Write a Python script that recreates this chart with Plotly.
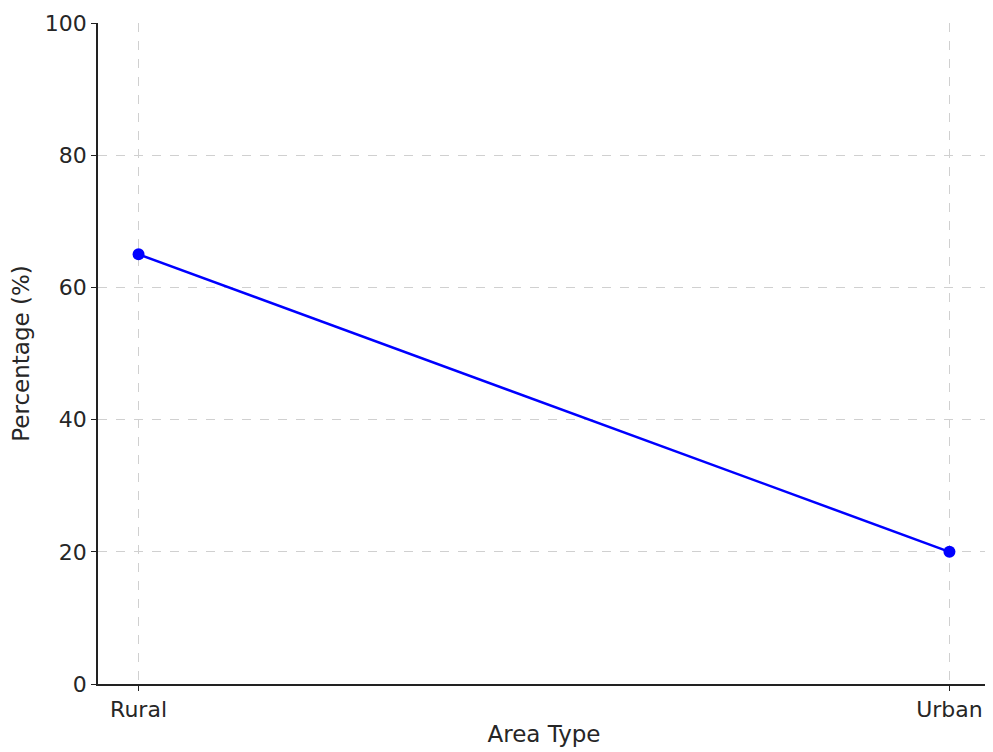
import plotly.graph_objects as go

categories = ["Rural", "Urban"]
values = [65, 20]

fig = go.Figure()
fig.add_trace(go.Scatter(
    x=[0, 1], y=values, mode="lines+markers",
    line=dict(color="#0000ff", width=2.5),
    marker=dict(color="#0000ff", size=12),
    showlegend=False,
))

fig.update_layout(
    width=985, height=739,
    margin=dict(l=90, r=3, t=14, b=58),
    paper_bgcolor="white", plot_bgcolor="white",
    font=dict(family="DejaVu Sans", size=22, color="#262626"),
)
fig.update_xaxes(
    range=[-0.05, 1.05], tickvals=[0, 1], ticktext=categories,
    title=dict(text="Area Type", font=dict(size=23), standoff=6),
    showline=True, linecolor="#222222", linewidth=1.5,
    ticks="outside", ticklen=5, tickcolor="#222222",
    showgrid=True, gridcolor="#d0d0d0", griddash="dash", gridwidth=1,
    zeroline=False, tickfont=dict(size=22),
)
fig.update_yaxes(
    range=[0, 100], tickvals=[0, 20, 40, 60, 80, 100],
    title=dict(text="Percentage (%)", font=dict(size=23), standoff=10),
    showline=True, linecolor="#222222", linewidth=1.5,
    ticks="outside", ticklen=5, tickcolor="#222222",
    showgrid=True, gridcolor="#d0d0d0", griddash="dash", gridwidth=1,
    zeroline=False, tickfont=dict(size=22),
)

fig.write_html("out.html")
